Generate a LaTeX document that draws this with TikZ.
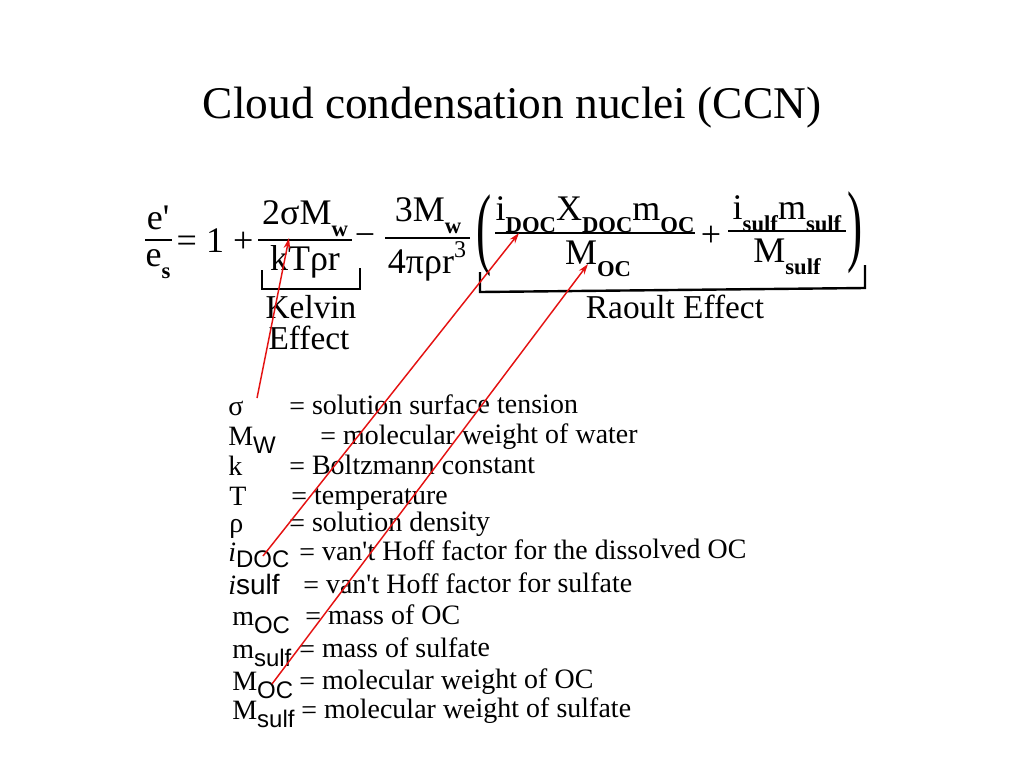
\documentclass[tikz,border=0pt]{standalone}
\usepackage{graphicx}
\usepackage{fontspec}
\setmainfont{Liberation Serif}
\newfontfamily\sansf{Liberation Sans}
\usetikzlibrary{arrows.meta}
\definecolor{arrowred}{RGB}{228,18,18}
\newcommand\esub[1]{\raisebox{-0.34em}{\fontsize{17}{20}\selectfont\bfseries #1}}
\newcommand\lsub[1]{\raisebox{-0.3em}{\sansf\fontsize{18}{20}\selectfont #1}}
\begin{document}
\begin{tikzpicture}[x=0.75pt,y=-0.75pt,
  title/.style={font=\fontsize{34}{40}\selectfont, inner sep=0},
  eq/.style={font=\fontsize{27}{32}\selectfont, inner sep=0},
  lab/.style={font=\fontsize{25}{30}\selectfont, inner sep=0},
  sym/.style={font=\fontsize{21}{25}\selectfont, inner sep=0, anchor=base west},
  defn/.style={font=\fontsize{21}{25}\selectfont, inner sep=0, anchor=base west, rotate=0.35},
  bar/.style={line width=1.5pt},
  brk/.style={line width=1.8pt},
  pointer/.style={draw=arrowred, line width=1.1pt, -{Stealth[length=8pt,width=5pt]}}]
\path[use as bounding box] (0,0) rectangle (1024,768);

% title
\node[title] (title) at (512,108) {Cloud condensation nuclei (CCN)};

% equation
\node[eq] (en) at (158,218) {e\textquotesingle};
\draw[bar] (145,240) -- (172,240);
\node[eq] (ed) at (158,264) {e\esub{s}};
\node[eq] (eq1) at (215,241) {= 1 +};

\node[eq] (kn) at (305,219) {2σM\esub{w}};
\draw[bar] (258,240) -- (352,240);
\node[eq] (kd) at (305,262) {kTρr};
\node[eq] (minus) at (365,240) {−};

\node[eq] (rn) at (428,216) {3M\esub{w}};
\draw[bar] (385,238) -- (470,238);
\node[eq] (rd) at (427,261) {4πρr\raisebox{0.45em}{\fontsize{18}{20}\selectfont 3}};

\node[inner sep=0, font=\fontsize{68}{70}\selectfont] (lp) at (484,236) {\scalebox{0.5}[1]{(}};

\node[eq] (an) at (595,215) {i\esub{DOC}X\esub{DOC}m\esub{OC}};
\draw[bar] (495,233) -- (695,233);
\node[eq] (ad) at (598,259) {M\esub{OC}};
\node[eq] (plus2) at (711,236) {+};
\node[eq] (bn) at (787,214) {i\esub{sulf}m\esub{sulf}};
\draw[bar] (728,231) -- (846,231);
\node[eq] (bd) at (787,257) {M\esub{sulf}};
\node[inner sep=0, font=\fontsize{68}{70}\selectfont] (rp) at (855,233) {\scalebox{0.5}[1]{)}};

% brackets
\draw[brk] (262,270) -- (262,289) -- (360,289) -- (360,268);
\draw[brk] (480,272) -- (480,292) -- (865,288) -- (865,265);
\node[lab] (kel1) at (311,307) {Kelvin};
\node[lab] (kel2) at (309,338) {Effect};
\node[lab] (raoult) at (675,307) {Raoult Effect};

% definitions
\node[sym] (s1) at (228,415) {σ};
\node[defn] (d1) at (289,415) {= solution surface tension};
\node[sym] (s2) at (228,445) {M\lsub{W}};
\node[defn] (d2) at (320,445) {= molecular weight of water};
\node[sym] (s3) at (228,475) {k};
\node[defn] (d3) at (289,475) {= Boltzmann constant};
\node[sym] (s4) at (229,505) {T};
\node[defn] (d4) at (291,505) {= temperature};
\node[sym] (s5) at (229,532) {ρ};
\node[defn] (d5) at (289,532) {= solution density};
\node[sym] (s6) at (228,561) {\textit{i}\raisebox{-0.22em}{\sansf\fontsize{18}{20}\selectfont DOC}};
\node[defn] (d6) at (299,561) {= van\textquotesingle t Hoff factor for the dissolved OC};
\node[sym] (s7) at (228,594) {\textit{i}{\sansf sulf}};
\node[defn] (d7) at (303,594) {= van\textquotesingle t Hoff factor for sulfate};
\node[sym] (s8) at (232,625) {m\lsub{OC}};
\node[defn] (d8) at (305,625) {= mass of OC};
\node[sym] (s9) at (232,658) {m\lsub{sulf}};
\node[defn] (d9) at (299,658) {= mass of sulfate};
\node[sym] (s10) at (232,690) {M\lsub{OC}};
\node[defn] (d10) at (299,690) {= molecular weight of OC};
\node[sym] (s11) at (232,719) {M\lsub{sulf}};
\node[defn] (d11) at (301,719) {= molecular weight of sulfate};

% pointers
\coordinate (p1s) at (257,398);
\coordinate (p1e) at (289,238);
\coordinate (p2s) at (263,556);
\coordinate (p2e) at (519,233);
\coordinate (p3s) at (272,684);
\coordinate (p3e) at (588,264);
\draw[pointer] (p1s) -- (p1e);
\draw[pointer] (p2s) -- (p2e);
\draw[pointer] (p3s) -- (p3e);
\end{tikzpicture}
\end{document}
